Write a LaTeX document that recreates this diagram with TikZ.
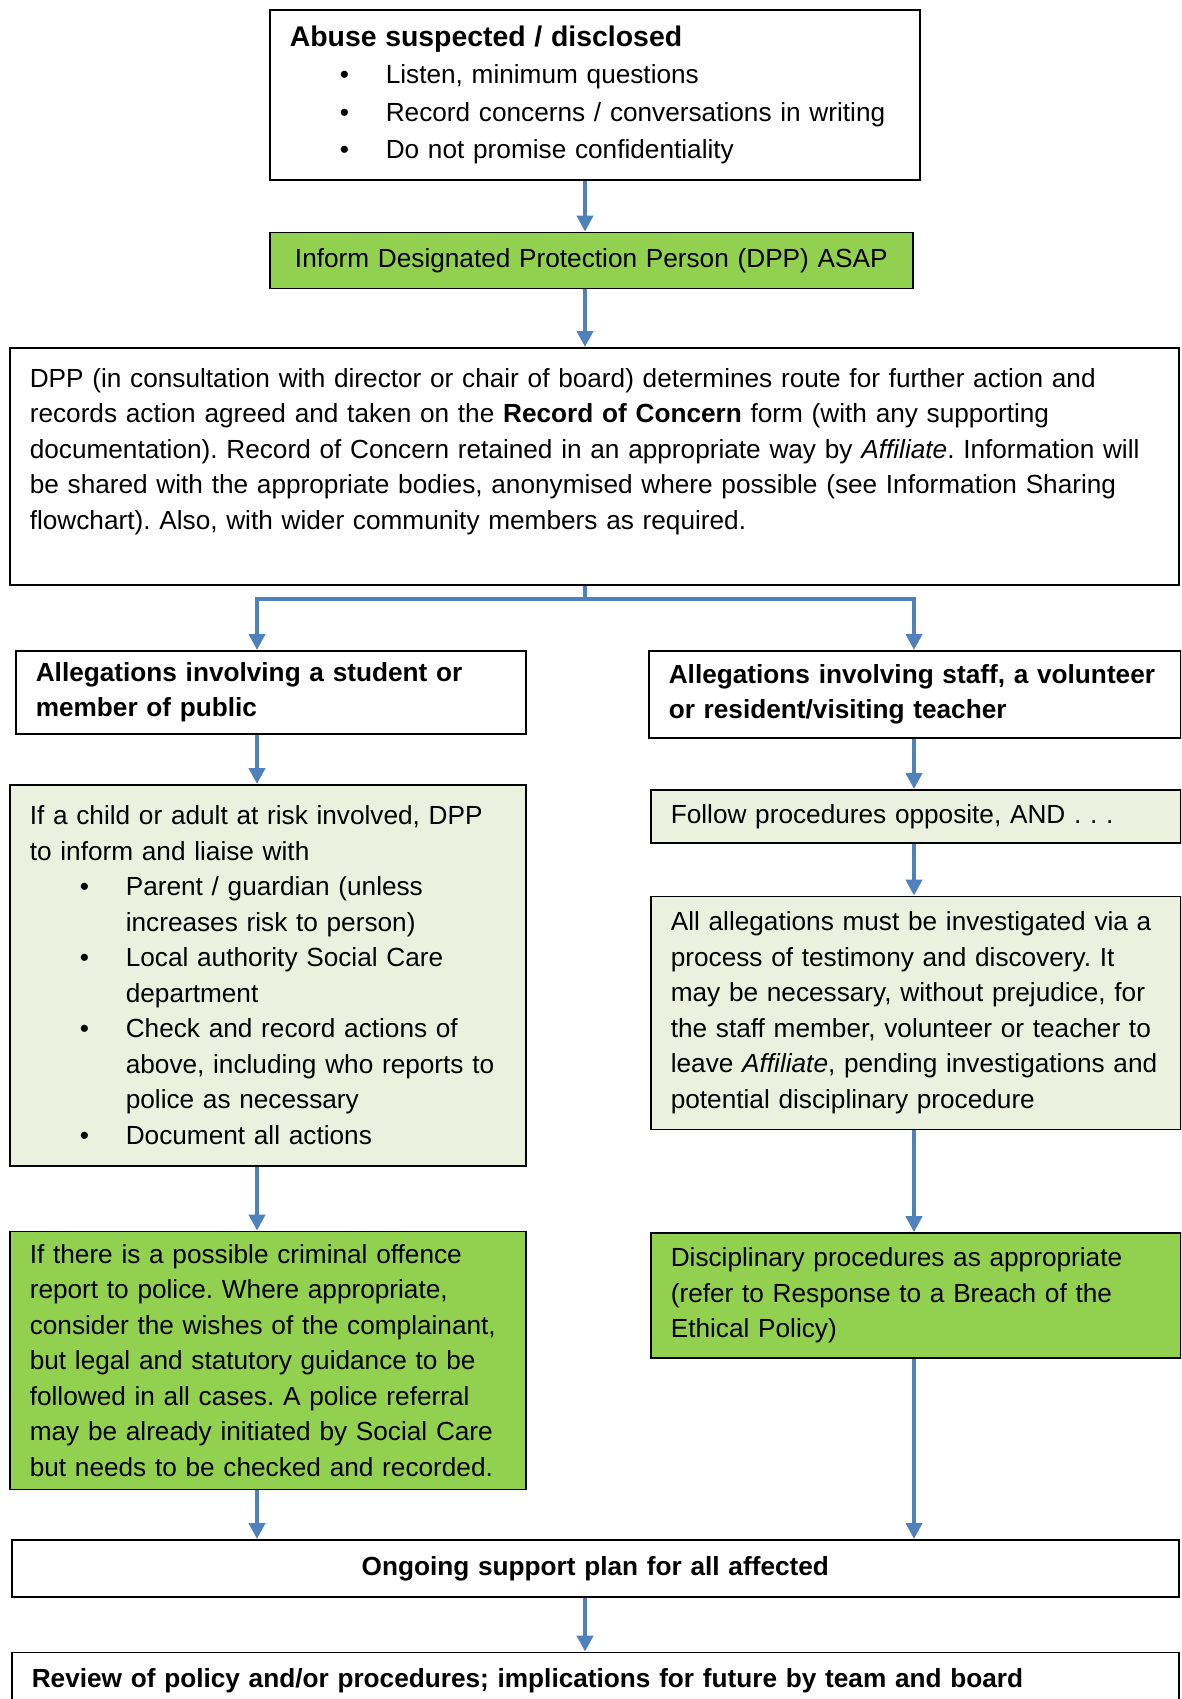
\documentclass[tikz,border=0pt]{standalone}
\usepackage{fontspec}
\setmainfont{Liberation Sans}
\usetikzlibrary{arrows.meta,positioning}
\definecolor{fcBlue}{RGB}{79,129,189}
\definecolor{fcGreen}{RGB}{146,208,80}
\definecolor{fcPale}{RGB}{235,241,222}
\newcommand{\bitem}[1]{\hspace*{50pt}\makebox[46pt][l]{\textbullet}#1}
\newcommand{\bcont}[1]{\hspace*{96pt}#1}
\frenchspacing

\begin{document}
\begin{tikzpicture}[
  x=1pt, y=-1pt,
  font=\fontsize{26.2}{35.5}\selectfont,
  box/.style={draw=black, line width=1.6pt, anchor=north west, align=left,
              inner xsep=20pt, inner ysep=0pt,
              execute at begin node={\frenchspacing\hyphenpenalty=10000}},
  greenbox/.style={box, fill=fcGreen},
  palebox/.style={box, fill=fcPale},
  arr/.style={-{Triangle[width=16pt,length=16pt]}, draw=fcBlue, line width=4.5pt}
]
\useasboundingbox (0,0) rectangle (1181,1699);
\clip (0,0) rectangle (1181,1699);

\node[box, text width=610pt, minimum height=170pt, font=\fontsize{26.2}{37.5}\selectfont] (abuse) at (269,9)
  {{\fontsize{28.4}{37.5}\selectfont\bfseries Abuse suspected / disclosed}\\
   \bitem{Listen, minimum questions}\\
   \bitem{Record concerns / conversations in writing}\\
   \bitem{Do not promise confidentiality}};
\node[greenbox, text width=603pt, minimum height=56pt, align=center,
      below right=51pt and 0pt of abuse.south west] (inform)
  {Inform Designated Protection Person (DPP) ASAP};
\node[box, text width=1129pt, minimum height=237pt] (dpp) at (9,347)
  {DPP (in consultation with director or chair of board) determines route for further action and\\
   records action agreed and taken on the \textbf{Record of Concern} form (with any supporting\\
   documentation). Record of Concern retained in an appropriate way by \textit{Affiliate}. Information will\\
   be shared with the appropriate bodies, anonymised where possible (see Information Sharing\\
   flowchart). Also, with wider community members as required.\\
   \mbox{}};

% left column
\node[box, text width=470pt, minimum height=83pt] (lalleg) at (15,650)
  {\textbf{Allegations involving a student or}\\ \textbf{member of public}};
\node[palebox, text width=476pt, minimum height=381pt] (lrisk) at (9,784)
  {If a child or adult at risk involved, DPP\\
   to inform and liaise with\\
   \bitem{Parent / guardian (unless}\\
   \bcont{increases risk to person)}\\
   \bitem{Local authority Social Care}\\
   \bcont{department}\\
   \bitem{Check and record actions of}\\
   \bcont{above, including who reports to}\\
   \bcont{police as necessary}\\
   \bitem{Document all actions}};
\node[greenbox, text width=476pt, minimum height=258pt,
      below right=64pt and 0pt of lrisk.south west] (police)
  {If there is a possible criminal offence\\
   report to police. Where appropriate,\\
   consider the wishes of the complainant,\\
   but legal and statutory guidance to be\\
   followed in all cases. A police referral\\
   may be already initiated by Social Care\\
   but needs to be checked and recorded.};

% right column
\node[box, text width=492pt, minimum height=87pt] (ralleg) at (648,650)
  {\textbf{Allegations involving staff, a volunteer}\\ \textbf{or resident/visiting teacher}};
\node[palebox, text width=490pt, minimum height=53pt] (follow) at (650,789)
  {Follow procedures opposite, AND . . .};
\node[palebox, text width=490pt, minimum height=233pt,
      below right=52pt and 0pt of follow.south west] (invest)
  {All allegations must be investigated via a\\
   process of testimony and discovery. It\\
   may be necessary, without prejudice, for\\
   the staff member, volunteer or teacher to\\
   leave \textit{Affiliate}, pending investigations and\\
   potential disciplinary procedure};
\node[greenbox, text width=490pt, minimum height=125pt,
      below right=102pt and 0pt of invest.south west] (discip)
  {Disciplinary procedures as appropriate\\
   (refer to Response to a Breach of the\\
   Ethical Policy)};

% bottom
\node[box, text width=1127pt, minimum height=57pt, align=center] (ongoing) at (11,1539)
  {\textbf{Ongoing support plan for all affected}};
\node[box, text width=1127pt, minimum height=56pt,
      below right=54pt and 0pt of ongoing.south west] (review)
  {\textbf{Review of policy and/or procedures; implications for future by team and board}};

% connectors
\coordinate (mid) at (585,0);
\coordinate (lcol) at (257,0);
\coordinate (rcol) at (914,0);
\coordinate (split) at (585,599);

\draw[arr] (abuse.south -| mid) -- (inform.north -| mid);
\draw[arr] (inform.south -| mid) -- (dpp.north -| mid);
\draw[arr] (dpp.south -| mid) -- (split) -| (lalleg.north -| lcol);
\draw[arr] (split) -| (ralleg.north -| rcol);
\foreach \a/\b in {lalleg/lrisk, lrisk/police, police/ongoing}
  \draw[arr] (\a.south -| lcol) -- (\b.north -| lcol);
\foreach \a/\b in {ralleg/follow, follow/invest, invest/discip, discip/ongoing}
  \draw[arr] (\a.south -| rcol) -- (\b.north -| rcol);
\draw[arr] (ongoing.south -| mid) -- (review.north -| mid);

\end{tikzpicture}
\end{document}
